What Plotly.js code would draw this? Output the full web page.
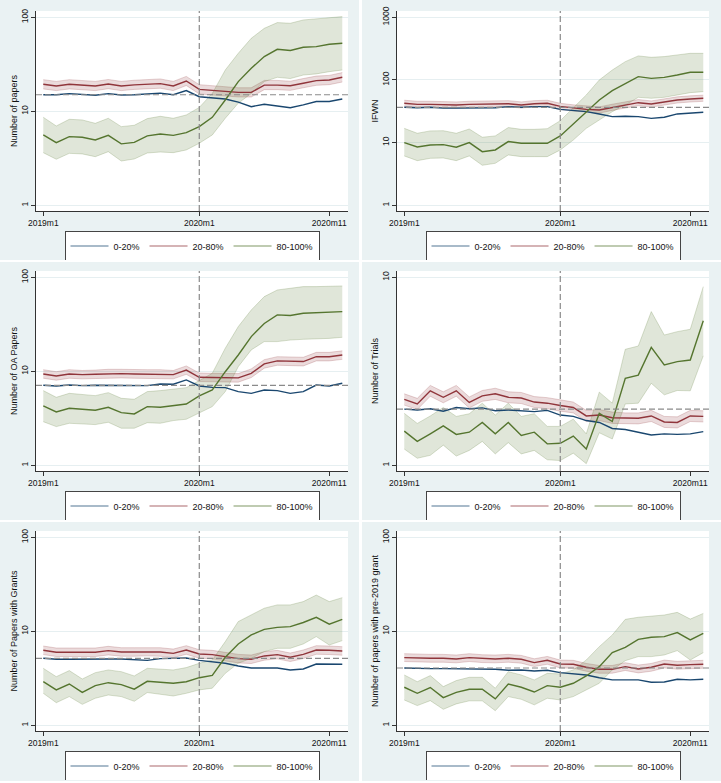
<!DOCTYPE html>
<html><head><meta charset="utf-8">
<script src="https://cdn.plot.ly/plotly-3.0.1.min.js"></script>
<style>
body{margin:0;background:#fff;width:721px;height:783px;overflow:hidden;position:relative}
.bg{position:absolute;background:#EAF2F3}
.pl{position:absolute;width:359px;height:260px}
</style></head><body>
<div class="bg" style="left:0;top:0;width:359px;height:260px"></div>
<div class="bg" style="left:362px;top:0;width:359px;height:260px"></div>
<div class="bg" style="left:0;top:262px;width:359px;height:258px"></div>
<div class="bg" style="left:362px;top:262px;width:359px;height:258px"></div>
<div class="bg" style="left:0;top:522px;width:359px;height:259px"></div>
<div class="bg" style="left:362px;top:522px;width:359px;height:259px"></div>
<div id="p1" class="pl" style="left:0;top:0"></div>
<div id="p2" class="pl" style="left:361px;top:0"></div>
<div id="p3" class="pl" style="left:0;top:260px"></div>
<div id="p4" class="pl" style="left:361px;top:260px"></div>
<div id="p5" class="pl" style="left:0;top:520px"></div>
<div id="p6" class="pl" style="left:361px;top:520px"></div>
<script>
const months = ['2019m1','2019m2','2019m3','2019m4','2019m5','2019m6','2019m7','2019m8','2019m9','2019m10','2019m11','2019m12',
                '2020m1','2020m2','2020m3','2020m4','2020m5','2020m6','2020m7','2020m8','2020m9','2020m10','2020m11','2020m12'];
const tickMonths = ['2019m1','2020m1','2020m11'];
const eventMonth = '2020m1';
const groups = ['0-20%','20-80%','80-100%'];

// Panel 1: Number of papers
const blue1 = [15.0,15.0,15.4,15.0,14.8,15.4,14.9,15.0,15.2,15.6,15.0,16.6,14.3,13.9,13.5,12.5,11.2,11.9,11.4,10.9,11.7,12.7,12.7,13.5];
const red1 = [19.4,18.6,19.4,19.1,18.6,19.5,18.6,19.1,19.5,19.7,18.6,21.0,17.1,16.7,16.2,15.9,15.9,19.0,19.0,18.7,19.9,21.2,21.5,23.0];
const red1Hi = [21.7,20.8,21.7,21.4,20.8,21.8,20.8,21.4,21.8,22.1,20.8,23.5,19.2,18.7,18.1,17.8,17.8,21.3,21.3,20.9,22.3,23.7,24.1,25.8];
const red1Lo = [17.3,16.6,17.3,17.1,16.6,17.4,16.6,17.1,17.4,17.6,16.6,18.8,15.3,14.9,14.5,14.2,14.2,17.0,17.0,16.7,17.8,18.9,19.2,20.5];
const green1 = [5.60,4.64,5.38,5.30,4.96,5.55,4.50,4.67,5.47,5.74,5.55,5.92,6.87,8.63,13.2,20.7,28.7,38.2,45.7,44.3,48.0,48.8,51.6,52.9];
const green1Hi = [8.64,6.98,8.22,8.09,7.45,8.43,6.87,7.10,8.36,8.85,8.43,9.14,11.0,15.5,27.5,41.4,59.8,76.3,87.8,86.4,93.7,96.0,99.2,101.7];
const green1Lo = [3.63,3.09,3.57,3.52,3.29,3.72,2.96,3.11,3.60,3.69,3.63,3.88,4.57,5.60,8.43,12.2,15.5,20.7,23.0,22.3,24.3,25.0,26.4,27.5];

// Panel 2: IFWN
const blue2 = [36.6,36.1,36.6,35.5,35.5,35.8,35.8,36.1,37.5,36.6,37.5,37.5,34.0,32.5,31.3,28.7,26.0,26.3,26.0,24.4,25.4,28.7,29.4,30.5];
const red2 = [42.4,40.8,40.8,39.9,39.9,40.8,40.8,41.8,41.8,39.9,41.8,42.4,37.9,35.8,34.0,33.2,36.6,40.3,43.4,41.3,45.1,48.0,49.8,51.1];
const red2Hi = [47.5,45.7,45.7,44.7,44.7,45.7,45.7,46.8,46.8,44.7,46.8,47.5,42.4,40.1,38.1,37.2,41.0,45.1,48.6,46.3,50.5,53.8,55.8,57.2];
const red2Lo = [37.9,36.4,36.4,35.6,35.6,36.4,36.4,37.3,37.3,35.6,37.3,37.9,33.8,32.0,30.4,29.6,32.7,36.0,38.8,36.9,40.3,42.9,44.5,45.6];
const green2 = [10.0,8.53,9.18,9.29,8.43,10.0,7.18,7.64,10.4,9.76,9.76,9.76,12.8,19.9,32.0,48.0,67.6,88.5,113,106,110,120,133,133];
const green2Hi = [16.9,14.1,15.4,15.5,14.1,16.5,12.2,12.8,17.4,16.3,16.3,16.7,22.4,35.3,57.6,100,144,196,242,230,236,251,266,266];
const green2Lo = [6.13,5.16,5.62,5.69,5.16,6.13,4.35,4.68,6.36,5.98,5.98,5.98,7.64,11.0,16.9,23.0,31.2,39.9,52.9,51.0,52.9,57.6,62.8,65.1];

// Panel 3: Number of OA Papers
const blue3 = [7.10,6.98,7.14,7.04,7.10,7.10,7.14,7.04,7.04,7.32,7.28,8.09,6.98,6.75,6.70,6.08,5.83,6.33,6.23,5.83,6.08,7.14,6.98,7.46];
const red3 = [9.37,8.92,9.37,9.22,9.30,9.44,9.44,9.37,9.37,9.37,9.22,10.3,8.64,8.58,8.51,8.51,9.52,12.0,12.9,12.7,12.7,14.3,14.3,14.9];
const red3Hi = [10.4,9.90,10.4,10.2,10.3,10.5,10.5,10.4,10.4,10.4,10.2,11.4,9.59,9.52,9.45,9.45,10.6,13.3,14.3,14.1,14.1,15.9,15.9,16.5];
const red3Lo = [8.44,8.04,8.44,8.31,8.38,8.50,8.50,8.44,8.44,8.44,8.31,9.28,7.78,7.73,7.67,7.67,8.58,10.8,11.6,11.4,11.4,12.9,12.9,13.4];
const green3 = [4.28,3.69,4.04,3.94,3.85,4.14,3.63,3.52,4.21,4.14,4.35,4.49,5.47,6.33,9.90,14.9,23.4,32.3,39.8,39.2,41.5,42.1,42.4,43.1];
const green3Hi = [6.23,5.29,5.83,5.65,5.51,5.93,5.16,5.04,6.08,6.23,6.44,6.70,7.96,9.52,17.6,29.9,44.9,62.3,73.3,76.3,79.6,79.6,79.6,80.9];
const green3Lo = [2.91,2.58,2.80,2.75,2.71,2.87,2.48,2.48,2.84,2.80,2.99,3.09,3.63,4.21,6.08,11.2,16.9,20.7,20.7,21.5,21.9,22.1,22.4,23.0];

// Panel 4: Number of Trials
const blue4 = [1.99,1.97,2.00,1.94,2.03,2.00,2.02,1.95,1.97,1.95,1.93,1.96,1.85,1.82,1.73,1.69,1.57,1.55,1.50,1.45,1.47,1.46,1.47,1.51];
const red4 = [2.24,2.12,2.49,2.30,2.49,2.16,2.34,2.40,2.30,2.28,2.17,2.14,2.08,2.03,1.83,1.85,1.79,1.78,1.78,1.83,1.70,1.69,1.83,1.82];
const red4Hi = [2.40,2.27,2.66,2.46,2.66,2.31,2.50,2.57,2.46,2.44,2.32,2.29,2.23,2.17,1.96,1.98,1.92,1.90,1.90,1.96,1.82,1.81,1.96,1.95];
const red4Lo = [2.09,1.98,2.33,2.15,2.33,2.02,2.19,2.24,2.15,2.13,2.03,2.00,1.94,1.90,1.71,1.73,1.67,1.66,1.66,1.71,1.59,1.58,1.71,1.70];
const green4 = [1.52,1.34,1.47,1.62,1.46,1.50,1.69,1.47,1.69,1.44,1.50,1.30,1.31,1.43,1.22,1.89,1.71,2.90,3.02,4.24,3.42,3.56,3.63,5.88];
const green4Hi = [1.89,1.67,1.83,2.03,1.82,1.88,2.14,1.85,2.14,1.82,1.88,1.61,1.61,1.76,1.47,2.45,2.14,4.14,4.31,6.57,4.93,5.14,5.29,8.92];
const green4Lo = [1.22,1.09,1.13,1.28,1.12,1.20,1.34,1.15,1.32,1.15,1.20,1.07,1.06,1.16,1.02,1.49,1.38,2.12,2.14,2.73,2.37,2.50,2.49,3.82];

// Panel 5: Number of Papers with Grants
const blue5 = [5.16,5.04,5.04,5.08,5.12,5.08,5.08,5.04,4.91,5.12,5.12,5.20,4.91,4.72,4.57,4.28,4.07,4.07,4.07,3.88,3.97,4.49,4.49,4.46];
const red5 = [6.28,5.98,5.98,5.98,5.98,6.23,6.03,6.03,6.08,6.03,5.83,6.33,5.74,5.65,5.38,5.12,5.04,5.47,5.65,5.29,5.69,6.33,6.28,6.18];
const red5Hi = [6.97,6.64,6.64,6.64,6.64,6.92,6.69,6.69,6.75,6.69,6.47,7.03,6.37,6.27,5.97,5.68,5.59,6.07,6.27,5.87,6.32,7.03,6.97,6.86];
const red5Lo = [5.66,5.39,5.39,5.39,5.39,5.61,5.43,5.43,5.48,5.43,5.25,5.70,5.17,5.09,4.85,4.61,4.54,4.93,5.09,4.77,5.13,5.70,5.66,5.57];
const green5 = [2.91,2.38,2.75,2.24,2.64,2.84,2.71,2.42,2.94,2.89,2.80,2.91,3.21,3.40,5.29,7.33,9.14,10.5,11.0,11.2,12.4,14.1,11.9,13.4];
const green5Hi = [4.04,3.29,3.82,3.11,3.63,3.88,3.72,3.35,4.04,3.97,3.88,4.11,4.57,4.95,7.77,12.7,14.9,17.6,19.1,19.1,20.7,24.3,20.7,22.8];
const green5Lo = [2.19,1.74,2.02,1.67,1.94,2.10,2.02,1.80,2.23,2.15,2.05,2.19,2.38,2.48,3.57,4.57,5.16,6.08,6.59,6.59,7.33,8.78,7.15,7.96];

// Panel 6: Number of papers with pre-2019 grant
const blue6 = [4.07,4.01,4.01,4.01,4.01,4.01,3.97,3.94,3.85,3.88,3.78,3.85,3.63,3.55,3.43,3.21,3.04,3.04,3.04,2.87,2.89,3.09,3.04,3.09];
const red6 = [5.25,5.16,5.16,5.16,5.08,5.25,5.12,5.08,5.16,5.04,4.64,4.91,4.49,4.46,4.14,3.94,3.94,4.21,3.97,4.14,4.49,4.35,4.42,4.46];
const red6Hi = [5.78,5.68,5.68,5.68,5.59,5.78,5.63,5.59,5.68,5.54,5.10,5.40,4.94,4.91,4.55,4.33,4.33,4.63,4.37,4.55,4.94,4.79,4.86,4.91];
const red6Lo = [4.77,4.69,4.69,4.69,4.62,4.77,4.65,4.62,4.69,4.58,4.22,4.46,4.08,4.05,3.76,3.58,3.58,3.83,3.61,3.76,4.08,3.95,4.02,4.05];
const green6 = [2.54,2.19,2.52,1.97,2.24,2.42,2.42,1.91,2.75,2.54,2.26,2.64,2.54,2.80,3.35,4.21,5.93,6.76,8.22,8.64,8.78,9.68,8.09,9.52];
const green6Hi = [3.43,2.91,3.38,2.58,2.99,3.24,3.24,2.48,3.72,3.43,3.04,3.57,3.52,3.88,4.95,6.87,9.14,13.4,14.1,14.6,14.9,15.9,13.5,15.5];
const green6Lo = [1.86,1.62,1.83,1.48,1.69,1.82,1.82,1.43,2.02,1.89,1.65,1.94,1.86,2.02,2.38,2.80,3.88,4.87,5.38,5.38,5.60,6.23,4.95,5.93];

const yTitles = ['Number of papers','IFWN','Number of OA Papers','Number of Trials','Number of Papers with Grants','Number of papers with pre-2019 grant'];
const refLevels = [15.0, 36.6, 7.1, 1.99, 5.16, 4.07];
const yTicks = [[1,10,100],[1,10,100,1000],[1,10,100],[1,10],[1,10,100],[1,10,100]];

const FONT = '"Liberation Sans", Arial, Helvetica, sans-serif';
const C_BLUE = '#1A476F', C_RED = '#90353B', C_GREEN = '#55752F';

function panel(id, k, b, r, rHi, rLo, g, gHi, gLo) {
  const ticks = yTicks[k];
  const top = Math.log10(ticks[ticks.length-1]);
  const pxPerUnit = 188 / top;
  const yr = [-5.7/pxPerUnit, top + 6.3/pxPerUnit];
  const band = (vals, col) => ({x: months, y: vals, type:'scatter', mode:'lines',
      line:{color:col, width:0.8}, showlegend:false, hoverinfo:'skip'});
  const traces = [
    band(rLo, 'rgba(144,53,59,0.28)'),
    Object.assign(band(rHi, 'rgba(144,53,59,0.28)'), {fill:'tonexty', fillcolor:'rgba(144,53,59,0.18)'}),
    band(gLo, 'rgba(85,117,47,0.28)'),
    Object.assign(band(gHi, 'rgba(85,117,47,0.28)'), {fill:'tonexty', fillcolor:'rgba(85,117,47,0.18)'}),
    {x: months, y: b, type:'scatter', mode:'lines', line:{color:C_BLUE, width:1.4}, showlegend:false},
    {x: months, y: r, type:'scatter', mode:'lines', line:{color:C_RED, width:1.4}, showlegend:false},
    {x: months, y: g, type:'scatter', mode:'lines', line:{color:C_GREEN, width:1.4}, showlegend:false},
    {x:[null], y:[null], type:'scatter', mode:'lines', name:groups[0], line:{color:'rgba(26,71,111,0.5)', width:1.6}},
    {x:[null], y:[null], type:'scatter', mode:'lines', name:groups[1], line:{color:'rgba(144,53,59,0.5)', width:1.6}},
    {x:[null], y:[null], type:'scatter', mode:'lines', name:groups[2], line:{color:'rgba(85,117,47,0.5)', width:1.6}}
  ];
  const layout = {
    width:359, height:260,
    margin:{l:36, r:11, t:11, b:49},
    paper_bgcolor:'rgba(0,0,0,0)', plot_bgcolor:'#ffffff',
    font:{family:FONT, size:8.5, color:'#111'},
    showlegend:true,
    legend:{orientation:'h', xref:'container', yref:'container', x:192/359, xanchor:'center',
      y:1 - 230.5/260, yanchor:'top',
      bgcolor:'#ffffff', bordercolor:'#444', borderwidth:1, font:{family:FONT, size:9, color:'#111'},
      itemwidth:38, traceorder:'normal'},
    xaxis:{type:'category', categoryorder:'array', categoryarray:months, range:[-0.56, 23.44],
      tickvals:tickMonths, ticktext:tickMonths, ticks:'outside', ticklen:4, tickcolor:'#333',
      showline:true, linecolor:'#333', linewidth:1, showgrid:false, zeroline:false, automargin:false,
      tickfont:{family:FONT, size:8.5, color:'#111'}},
    yaxis:{type:'log', range:yr, tickvals:ticks, ticktext:ticks.map(String), tickangle:-90,
      ticks:'outside', ticklen:4, tickcolor:'#333', showline:true, linecolor:'#333', linewidth:1,
      showgrid:true, gridcolor:'#E6EFF1', gridwidth:1, zeroline:false, automargin:false,
      tickfont:{family:FONT, size:8.5, color:'#111'},
      title:{text:yTitles[k], font:{family:FONT, size:9, color:'#111'}, standoff:0}},
    shapes:[
      {type:'line', xref:'x', yref:'paper', x0:months.indexOf(eventMonth), x1:months.indexOf(eventMonth), y0:0, y1:1,
       line:{color:'#8a8a8a', width:1.2, dash:'6px,3px'}},
      {type:'line', xref:'paper', yref:'y', x0:0, x1:1, y0:refLevels[k], y1:refLevels[k],
       line:{color:'#8a8a8a', width:1.2, dash:'6px,3px'}}
    ]
  };
  Plotly.newPlot(id, traces, layout, {staticPlot:true, displayModeBar:false});
}

panel('p1', 0, blue1, red1, red1Hi, red1Lo, green1, green1Hi, green1Lo);
panel('p2', 1, blue2, red2, red2Hi, red2Lo, green2, green2Hi, green2Lo);
panel('p3', 2, blue3, red3, red3Hi, red3Lo, green3, green3Hi, green3Lo);
panel('p4', 3, blue4, red4, red4Hi, red4Lo, green4, green4Hi, green4Lo);
panel('p5', 4, blue5, red5, red5Hi, red5Lo, green5, green5Hi, green5Lo);
panel('p6', 5, blue6, red6, red6Hi, red6Lo, green6, green6Hi, green6Lo);
</script>
</body></html>
